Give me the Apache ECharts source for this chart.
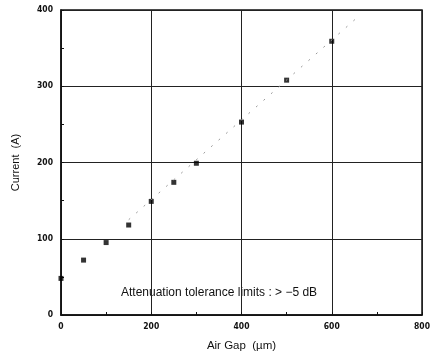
<!DOCTYPE html>
<html>
<head>
<meta charset="utf-8">
<script src="https://cdn.jsdelivr.net/npm/echarts@6/dist/echarts.min.js"></script>
<style>
html, body { margin: 0; padding: 0; background: #fff; }
#chart { width: 434px; height: 357px; }
</style>
</head>
<body>
<div id="chart"></div>
<script>
// 测量数据
var airGap = [0, 50, 100, 150, 200, 250, 300, 400, 500, 600]
var current = [48, 72, 95, 118, 149, 174, 199, 253, 308, 359]
// 拟合虚线
var fitGap = [150, 660]
var fitCurrent = [125, 392]
var xTicks = [0, 200, 400, 600, 800]
var yTicks = [0, 100, 200, 300, 400]

var chart = echarts.init(document.getElementById('chart'))
var pts = airGap.map(function (x, i) { return [x, current[i]] })
var fit = fitGap.map(function (x, i) { return [x, fitCurrent[i]] })
var font = 'Liberation Sans, Arial, sans-serif'
var tickFont = 'DejaVu Sans Condensed, Liberation Sans Narrow, sans-serif'

var option = {
    animation: false,
    grid: { left: 61, right: 12, top: 10, bottom: 42, show: true, borderColor: '#111', borderWidth: 1.5 },
    xAxis: {
        type: 'value', min: 0, max: 800, interval: 200,
        name: 'Air Gap  (\u00b5m)', nameLocation: 'middle', nameGap: 25,
        nameTextStyle: { color: '#111', fontSize: 11.5, fontFamily: font },
        axisLine: { show: true, lineStyle: { color: '#111', width: 1.5 } },
        axisTick: { show: true, inside: true, length: 3, lineStyle: { color: '#111' } },
        minorTick: { show: true, splitNumber: 2, length: 3, lineStyle: { color: '#111' } },
        axisLabel: { color: '#111', fontSize: 8.5, fontWeight: 'bold', fontFamily: tickFont, margin: 7,
            formatter: function (v) { return xTicks.indexOf(v) >= 0 ? String(v) : '' } },
        splitLine: { show: true, lineStyle: { color: '#222', width: 1 } }
    },
    yAxis: {
        type: 'value', min: 0, max: 400, interval: 100,
        name: 'Current  (A)', nameLocation: 'middle', nameGap: 40,
        nameTextStyle: { color: '#111', fontSize: 11, fontFamily: font },
        axisLine: { show: true, lineStyle: { color: '#111', width: 1.5 } },
        axisTick: { show: true, inside: true, length: 3, lineStyle: { color: '#111' } },
        minorTick: { show: true, splitNumber: 2, length: 3, lineStyle: { color: '#111' } },
        axisLabel: { color: '#111', fontSize: 8.5, fontWeight: 'bold', fontFamily: tickFont, margin: 8,
            formatter: function (v) { return yTicks.indexOf(v) >= 0 ? String(v) : '' } },
        splitLine: { show: true, lineStyle: { color: '#222', width: 1 } }
    },
    graphic: [{
        type: 'text', left: 121, top: 287,
        style: { text: 'Attenuation tolerance limits : > \u22125 dB', fill: '#111', fontSize: 12,
            fontFamily: font }
    }],
    series: [{
        type: 'line', data: fit, symbol: 'none', silent: true,
        lineStyle: { color: '#999', width: 1, type: [2, 8] }
    }, {
        type: 'scatter', data: pts, symbol: 'rect', symbolSize: 5,
        itemStyle: { color: '#000' }
    }]
}
chart.setOption(option)
</script>
</body>
</html>
